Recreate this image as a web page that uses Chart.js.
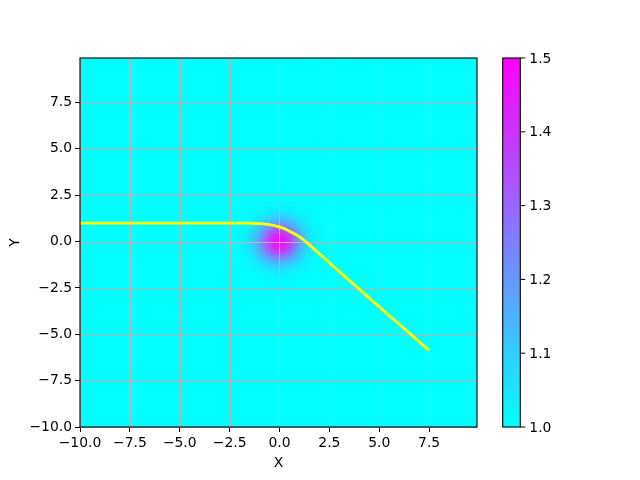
<!DOCTYPE html>
<html>
<head>
<meta charset="utf-8">
<script src="https://cdn.jsdelivr.net/npm/chart.js@4"></script>
<style>
  html, body { margin: 0; padding: 0; background: #fff; }
  #wrap { width: 640px; height: 480px; }
</style>
</head>
<body>
<div id="wrap"><canvas id="chart" width="640" height="480"></canvas></div>
<script>
// ==========================
// データ
// ==========================
const xTicks = [-10, -7.5, -5, -2.5, 0, 2.5, 5, 7.5];
const yTicks = [-10, -7.5, -5, -2.5, 0, 2.5, 5, 7.5];
const xRange = [-10, 9.9];
const yRange = [-10, 9.9];

// yellow path
const curveX = [-10, -3, -2, -1.5, -1, -0.5, 0, 0.25, 0.5, 0.75, 1, 1.25, 1.5, 2, 2.5, 3, 4, 5, 6, 7, 7.5];
const curveY = [1, 1, 1, 0.99, 0.97, 0.92, 0.79, 0.69, 0.56, 0.42, 0.26, 0.06, -0.18, -0.66, -1.14, -1.62, -2.57, -3.52, -4.46, -5.4, -5.87];

// field: everything is 1.0 except the bump around the origin
const bgValue = 1.0;
const blobX = [-2, -1.6, -1.2, -0.8, -0.4, 0, 0.4, 0.8, 1.2, 1.6, 2];
const blobY = [2, 1.6, 1.2, 0.8, 0.4, 0, -0.4, -0.8, -1.2, -1.6, -2];
const blobValues = [
  [1.00, 1.00, 1.00, 1.01, 1.01, 1.01, 1.01, 1.01, 1.00, 1.00, 1.00],
  [1.00, 1.01, 1.01, 1.02, 1.04, 1.05, 1.04, 1.02, 1.01, 1.01, 1.00],
  [1.00, 1.01, 1.04, 1.07, 1.11, 1.13, 1.11, 1.07, 1.04, 1.01, 1.00],
  [1.01, 1.02, 1.07, 1.15, 1.23, 1.27, 1.23, 1.15, 1.07, 1.02, 1.01],
  [1.01, 1.04, 1.11, 1.23, 1.37, 1.44, 1.37, 1.23, 1.11, 1.04, 1.01],
  [1.01, 1.05, 1.13, 1.27, 1.44, 1.50, 1.44, 1.27, 1.13, 1.05, 1.01],
  [1.01, 1.04, 1.11, 1.23, 1.37, 1.44, 1.37, 1.23, 1.11, 1.04, 1.01],
  [1.01, 1.02, 1.07, 1.15, 1.23, 1.27, 1.23, 1.15, 1.07, 1.02, 1.01],
  [1.00, 1.01, 1.04, 1.07, 1.11, 1.13, 1.11, 1.07, 1.04, 1.01, 1.00],
  [1.00, 1.01, 1.01, 1.02, 1.04, 1.05, 1.04, 1.02, 1.01, 1.01, 1.00],
  [1.00, 1.00, 1.00, 1.01, 1.01, 1.01, 1.01, 1.01, 1.00, 1.00, 1.00]
];
const cellSize = 0.4;

// colorbar
const cbTicks = [1.0, 1.1, 1.2, 1.3, 1.4, 1.5];
const cbRange = [1.0, 1.5];

const FONT = "'DejaVu Sans', sans-serif";
const GRID = '#c0b0b0';
const fmt = v => v.toFixed(1).replace('-', '\u2212');

// "cool" colormap
function cool(v) {
  let t = (v - cbRange[0]) / (cbRange[1] - cbRange[0]);
  t = Math.max(0, Math.min(1, t));
  return [Math.round(255 * t), Math.round(255 * (1 - t)), 255];
}

// ==========================
// ヒートマップ（背景）+ グリッド
// ==========================
const heatPlugin = {
  id: 'heat',
  beforeDatasetsDraw(chart) {
    const { ctx, chartArea: a, scales: { x, y } } = chart;
    ctx.save();
    const bg = cool(bgValue);
    ctx.fillStyle = `rgb(${bg[0]},${bg[1]},${bg[2]})`;
    ctx.fillRect(a.left, a.top, a.right - a.left, a.bottom - a.top);

    const off = document.createElement('canvas');
    off.width = blobX.length;
    off.height = blobY.length;
    const oc = off.getContext('2d');
    const img = oc.createImageData(off.width, off.height);
    blobValues.forEach((row, j) => {
      row.forEach((v, i) => {
        const c = cool(v);
        const k = (j * off.width + i) * 4;
        img.data[k] = c[0]; img.data[k + 1] = c[1]; img.data[k + 2] = c[2]; img.data[k + 3] = 255;
      });
    });
    oc.putImageData(img, 0, 0);

    const h = cellSize / 2;
    const x0 = x.getPixelForValue(blobX[0] - h);
    const x1 = x.getPixelForValue(blobX[blobX.length - 1] + h);
    const y0 = y.getPixelForValue(blobY[0] + h);
    const y1 = y.getPixelForValue(blobY[blobY.length - 1] - h);
    ctx.imageSmoothingEnabled = true;
    ctx.imageSmoothingQuality = 'high';
    ctx.drawImage(off, x0, y0, x1 - x0, y1 - y0);

    // grid lines over the image
    ctx.strokeStyle = GRID;
    ctx.lineWidth = 1.1;
    ctx.beginPath();
    xTicks.forEach(v => {
      const px = Math.round(x.getPixelForValue(v)) + 0.5;
      ctx.moveTo(px, a.top);
      ctx.lineTo(px, a.bottom);
    });
    yTicks.forEach(v => {
      const py = Math.round(y.getPixelForValue(v)) + 0.5;
      ctx.moveTo(a.left, py);
      ctx.lineTo(a.right, py);
    });
    ctx.stroke();
    ctx.restore();
  }
};

// ==========================
// 枠 + カラーバー
// ==========================
const framePlugin = {
  id: 'frame',
  afterDraw(chart) {
    const { ctx, chartArea: a } = chart;
    ctx.save();
    ctx.strokeStyle = '#000';
    ctx.lineWidth = 1.1;
    ctx.strokeRect(a.left, a.top, a.right - a.left, a.bottom - a.top);

    // colorbar
    const cbL = 502.7, cbR = 520.3, cbT = a.top, cbB = a.bottom;
    const g = ctx.createLinearGradient(0, cbB, 0, cbT);
    const lo = cool(cbRange[0]), hi = cool(cbRange[1]);
    g.addColorStop(0, `rgb(${lo.join(',')})`);
    g.addColorStop(1, `rgb(${hi.join(',')})`);
    ctx.fillStyle = g;
    ctx.fillRect(cbL, cbT, cbR - cbL, cbB - cbT);
    ctx.strokeRect(cbL, cbT, cbR - cbL, cbB - cbT);

    ctx.fillStyle = '#000';
    ctx.font = `13.9px ${FONT}`;
    ctx.textAlign = 'left';
    ctx.textBaseline = 'middle';
    ctx.lineWidth = 1;
    cbTicks.forEach(v => {
      const py = cbB - (v - cbRange[0]) / (cbRange[1] - cbRange[0]) * (cbB - cbT);
      ctx.beginPath();
      ctx.moveTo(cbR, py);
      ctx.lineTo(cbR + 5, py);
      ctx.stroke();
      ctx.fillText(fmt(v), cbR + 9, py + 1);
    });
    ctx.restore();
  }
};

// ==========================
// グラフ
// ==========================
const ctx = document.getElementById('chart').getContext('2d');
new Chart(ctx, {
  type: 'scatter',
  data: {
    datasets: [{
      data: curveX.map((v, i) => ({ x: v, y: curveY[i] })),
      showLine: true,
      borderColor: '#ffff00',
      borderWidth: 2.8,
      pointRadius: 0,
      cubicInterpolationMode: 'monotone',
      fill: false
    }]
  },
  options: {
    responsive: false,
    animation: false,
    layout: { padding: { left: 0, top: 58, right: 163, bottom: 0 } },
    plugins: { legend: { display: false }, tooltip: { enabled: false } },
    scales: {
      x: {
        type: 'linear',
        min: xRange[0],
        max: xRange[1],
        afterFit: s => { s.height = 53; },
        afterBuildTicks: s => { s.ticks = xTicks.map(v => ({ value: v })); },
        grid: { drawOnChartArea: false, color: '#000', tickColor: '#000', tickLength: 5, lineWidth: 1 },
        border: { display: false },
        ticks: {
          color: '#000', padding: 3, maxRotation: 0, autoSkip: false,
          font: { family: FONT, size: 13.9 },
          callback: v => fmt(v)
        },
        title: {
          display: true, text: 'X', color: '#000',
          font: { family: FONT, size: 13.9 },
          padding: { top: 2, bottom: 8 }
        }
      },
      y: {
        type: 'linear',
        min: yRange[0],
        max: yRange[1],
        afterFit: s => { s.width = 80; },
        afterBuildTicks: s => { s.ticks = yTicks.map(v => ({ value: v })); },
        grid: { drawOnChartArea: false, color: '#000', tickColor: '#000', tickLength: 5, lineWidth: 1 },
        border: { display: false },
        ticks: {
          color: '#000', padding: 3, autoSkip: false,
          font: { family: FONT, size: 13.9 },
          callback: v => fmt(v)
        },
        title: {
          display: true, text: 'Y', color: '#000',
          font: { family: FONT, size: 13.9 },
          padding: { top: 7, bottom: 0 }
        }
      }
    }
  },
  plugins: [heatPlugin, framePlugin]
});
</script>
</body>
</html>
